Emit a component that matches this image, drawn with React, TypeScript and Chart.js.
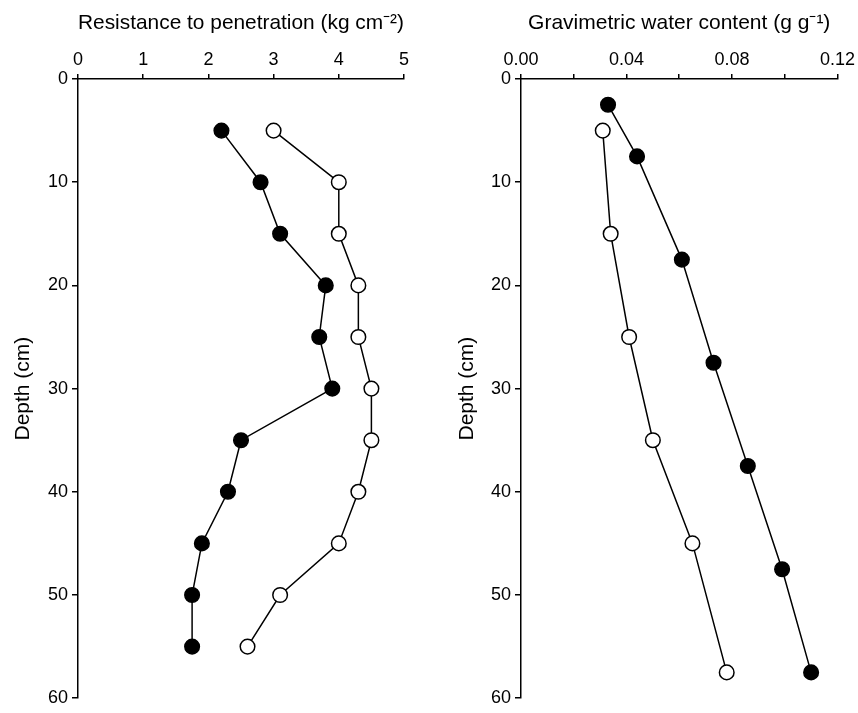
import React, { useEffect, useRef } from 'react';
import { Chart, registerables } from 'chart.js';

Chart.register(...registerables);

// ---- Data ----
const depthResistance = [5, 10, 15, 20, 25, 30, 35, 40, 45, 50, 55];
const resistanceFilled = [2.2, 2.8, 3.1, 3.8, 3.7, 3.9, 2.5, 2.3, 1.9, 1.75, 1.75];
const resistanceOpen = [3.0, 4.0, 4.0, 4.3, 4.3, 4.5, 4.5, 4.3, 4.0, 3.1, 2.6];

const depthWaterFilled = [2.5, 7.5, 17.5, 27.5, 37.5, 47.5, 57.5];
const waterFilled = [0.033, 0.044, 0.061, 0.073, 0.086, 0.099, 0.110];
const depthWaterOpen = [5, 15, 25, 35, 45, 57.5];
const waterOpen = [0.031, 0.034, 0.041, 0.050, 0.065, 0.078];

const depthTicks = [0, 10, 20, 30, 40, 50, 60];
const depthTickLabels = ['0', '10', '20', '30', '40', '50', '60'];
const resistanceTicks = [0, 1, 2, 3, 4, 5];
const resistanceTickLabels = ['0', '1', '2', '3', '4', '5'];
const waterTicks = [0, 0.02, 0.04, 0.06, 0.08, 0.1, 0.12];
const waterTickLabels = ['0.00', '', '0.04', '', '0.08', '', '0.12'];

const resistanceTitle = 'Resistance to penetration (kg cm\u207B\u00B2)';
const waterTitle = 'Gravimetric water content (g g\u207B\u00B9)';
const depthTitle = 'Depth (cm)';

const FONT = 'Arial, "Liberation Sans", Helvetica, sans-serif';

function pairs(xs: number[], ys: number[]) {
  return xs.map((x, i) => ({ x, y: ys[i] }));
}

function series(data: { x: number; y: number }[], filled: boolean) {
  return {
    data,
    showLine: true,
    borderColor: '#000',
    borderWidth: 1.5,
    pointRadius: 7.3,
    pointHoverRadius: 7.3,
    pointBorderWidth: 1.5,
    pointBorderColor: '#000',
    pointBackgroundColor: filled ? '#000' : '#fff',
    backgroundColor: filled ? '#000' : '#fff',
    fill: false,
  };
}

function makeConfig(opts: {
  datasets: any[];
  xMax: number;
  xTicks: number[];
  xLabels: string[];
  xTitle: string;
  yAxisWidth: number;
  yTitlePad: number;
  padRight: number;
}) {
  const axisTitleFont = { family: FONT, size: 21 };
  const tickFont = { family: FONT, size: 18 };
  return {
    type: 'scatter' as const,
    data: { datasets: opts.datasets },
    options: {
      animation: false,
      responsive: false,
      maintainAspectRatio: false,
      layout: { padding: { left: 0, top: 0, right: opts.padRight, bottom: 8 } },
      plugins: { legend: { display: false }, tooltip: { enabled: false } },
      events: [],
      scales: {
        x: {
          type: 'linear',
          position: 'top',
          min: 0,
          max: opts.xMax,
          afterBuildTicks: (scale: any) => {
            scale.ticks = opts.xTicks.map((v) => ({ value: v }));
          },
          afterFit: (scale: any) => {
            scale.height = 79;
          },
          ticks: {
            color: '#000',
            font: tickFont,
            padding: 3,
            maxRotation: 0,
            autoSkip: false,
            callback: (_v: any, i: number) => opts.xLabels[i],
          },
          grid: {
            display: true,
            drawOnChartArea: false,
            drawTicks: true,
            tickLength: 5,
            color: '#000',
            lineWidth: 1.5,
          },
          border: { display: true, color: '#000', width: 1.5 },
          title: {
            display: true,
            text: opts.xTitle,
            color: '#000',
            font: axisTitleFont,
            padding: { top: 11, bottom: 0 },
          },
        },
        y: {
          type: 'linear',
          position: 'left',
          reverse: true,
          min: 0,
          max: 60,
          afterBuildTicks: (scale: any) => {
            scale.ticks = depthTicks.map((v) => ({ value: v }));
          },
          afterFit: (scale: any) => {
            scale.width = opts.yAxisWidth;
          },
          ticks: {
            color: '#000',
            font: tickFont,
            padding: 4,
            autoSkip: false,
            callback: (_v: any, i: number) => depthTickLabels[i],
          },
          grid: {
            display: true,
            drawOnChartArea: false,
            drawTicks: true,
            tickLength: 6,
            color: '#000',
            lineWidth: 1.5,
          },
          border: { display: true, color: '#000', width: 1.5 },
          title: {
            display: true,
            text: depthTitle,
            color: '#000',
            font: axisTitleFont,
            padding: { top: opts.yTitlePad, bottom: 0 },
          },
        },
      },
    },
  };
}

function ChartCanvas({ config, left, width }: { config: any; left: number; width: number }) {
  const ref = useRef<HTMLCanvasElement | null>(null);
  useEffect(() => {
    if (!ref.current) return;
    const chart = new Chart(ref.current, config);
    return () => chart.destroy();
  }, []);
  return (
    <canvas
      ref={ref}
      width={width}
      height={713}
      style={{ position: 'absolute', left, top: 0, width, height: 713, display: 'block' }}
    />
  );
}

export default function App() {
  const leftConfig = makeConfig({
    datasets: [
      series(pairs(resistanceFilled, depthResistance), true),
      series(pairs(resistanceOpen, depthResistance), false),
    ],
    xMax: 5,
    xTicks: resistanceTicks,
    xLabels: resistanceTickLabels,
    xTitle: resistanceTitle,
    yAxisWidth: 78,
    yTitlePad: 11,
    padRight: 26,
  });
  const rightConfig = makeConfig({
    datasets: [
      series(pairs(waterFilled, depthWaterFilled), true),
      series(pairs(waterOpen, depthWaterOpen), false),
    ],
    xMax: 0.12,
    xTicks: waterTicks,
    xLabels: waterTickLabels,
    xTitle: waterTitle,
    yAxisWidth: 91,
    yTitlePad: 25,
    padRight: 19,
  });
  return (
    <div style={{ position: 'absolute', left: 0, top: 0, width: 858, height: 713, background: '#fff' }}>
      <ChartCanvas config={leftConfig} left={0} width={430} />
      <ChartCanvas config={rightConfig} left={430} width={428} />
    </div>
  );
}
